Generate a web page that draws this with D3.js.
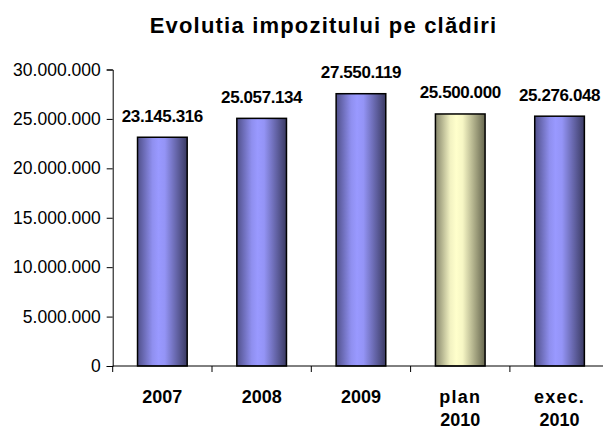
<!DOCTYPE html>
<html>
<head>
<meta charset="utf-8">
<script src="https://cdn.jsdelivr.net/npm/d3@7"></script>
<style>
  body { margin: 0; background: #fff; }
  svg text { font-family: "Liberation Sans", Arial, sans-serif; fill: #000; }
</style>
</head>
<body>
<div id="chart"></div>
<script>
// data
var categories = ["2007", "2008", "2009", "plan 2010", "exec. 2010"];
var values = [23145316, 25057134, 27550119, 25500000, 25276048];
var yTicks = [0, 5000000, 10000000, 15000000, 20000000, 25000000, 30000000];
var title = "Evolutia impozitului pe clădiri";

var width = 603, height = 430;
var margin = {top: 69.5, left: 112.7, bottom: 64};

var ro = d3.formatLocale({decimal: ",", thousands: ".", grouping: [3], currency: ["", " lei"]});
var fmt = ro.format(",d");

var svg = d3.select("#chart")
  .append("svg")
    .attr("width", width)
    .attr("height", height);

// gradients for the cylinder-like bars
var defs = svg.append("defs");
function grad(id, stops) {
  var g = defs.append("linearGradient").attr("id", id)
    .attr("x1", "0%").attr("x2", "100%").attr("y1", "0%").attr("y2", "0%");
  stops.forEach(function (s) {
    g.append("stop").attr("offset", s[0]).attr("stop-color", s[1]);
  });
}
grad("blue", [["0%", "#50508a"], ["30%", "#8f8fef"], ["42%", "#9999ff"], ["55%", "#9494f6"], ["100%", "#3a3a62"]]);
grad("yellow", [["0%", "#85856a"], ["30%", "#f2f2c2"], ["42%", "#ffffcc"], ["55%", "#f6f6c4"], ["100%", "#66664e"]]);

var x = d3.scaleBand()
  .domain(categories)
  .range([margin.left, margin.left + 5 * 99.3])
  .paddingInner(0.5)
  .paddingOuter(0.25);

var y = d3.scaleLinear()
  .domain([0, 30000000])
  .range([height - margin.bottom, margin.top]);

var y0 = y(0);

// title
svg.append("text")
  .attr("x", 323.5)
  .attr("y", 32.7)
  .attr("text-anchor", "middle")
  .style("font-size", "22px")
  .style("font-weight", "bold")
  .style("letter-spacing", "1.2px")
  .text(title);

// bars
var data = categories.map(function (c, i) { return {cat: c, v: values[i]}; });

svg.append("g")
  .selectAll("rect")
  .data(data)
  .enter()
  .append("rect")
    .attr("x", function (d) { return x(d.cat); })
    .attr("y", function (d) { return y(d.v); })
    .attr("width", x.bandwidth())
    .attr("height", function (d) { return y0 - y(d.v); })
    .attr("fill", function (d) { return d.cat.indexOf("plan") === 0 ? "url(#yellow)" : "url(#blue)"; })
    .attr("stroke", "#000")
    .attr("stroke-width", 1.5);

// value labels
svg.append("g")
  .selectAll("text")
  .data(data)
  .enter()
  .append("text")
    .attr("x", function (d) { return x(d.cat) + x.bandwidth() / 2; })
    .attr("y", function (d) { return y(d.v) - 15.5; })
    .attr("text-anchor", "middle")
    .style("font-size", "17px")
    .style("font-weight", "bold")
    .style("letter-spacing", "-0.4px")
    .text(function (d) { return fmt(d.v); });

// y axis
var yAxis = svg.append("g")
  .attr("transform", "translate(" + margin.left + ",0)")
  .call(d3.axisLeft(y).tickValues(yTicks).tickSize(6).tickPadding(6).tickFormat(fmt));
yAxis.selectAll("text").style("font-size", "17.5px").style("font-family", "Liberation Sans, Arial, sans-serif");
yAxis.select(".domain").attr("stroke", "#000");
yAxis.selectAll(".tick line").attr("stroke", "#000");

// x axis line and ticks at band boundaries
var step = x.step();
svg.append("line")
  .attr("x1", margin.left).attr("x2", width)
  .attr("y1", y0).attr("y2", y0)
  .attr("stroke", "#000");

svg.append("g")
  .selectAll("line")
  .data(categories)
  .enter()
  .append("line")
    .attr("x1", function (d) { return x(d) - step * 0.25; })
    .attr("x2", function (d) { return x(d) - step * 0.25; })
    .attr("y1", y0)
    .attr("y2", y0 + 6)
    .attr("stroke", "#000");

// category labels
var lab = svg.append("g")
  .selectAll("text")
  .data(categories)
  .enter()
  .append("text")
    .attr("x", function (d) { return x(d) + x.bandwidth() / 2; })
    .attr("y", 402.5)
    .attr("text-anchor", "middle")
    .style("font-size", "18px")
    .style("font-weight", "bold");

lab.each(function (d) {
  var parts = d.split(" ");
  var t = d3.select(this);
  parts.forEach(function (p, i) {
    t.append("tspan")
      .attr("x", x(d) + x.bandwidth() / 2)
      .attr("dy", i === 0 ? 0 : 23.5)
      .style("letter-spacing", parts.length > 1 && i === 0 ? "1.2px" : "0px")
      .text(p);
  });
});
</script>
</body>
</html>
